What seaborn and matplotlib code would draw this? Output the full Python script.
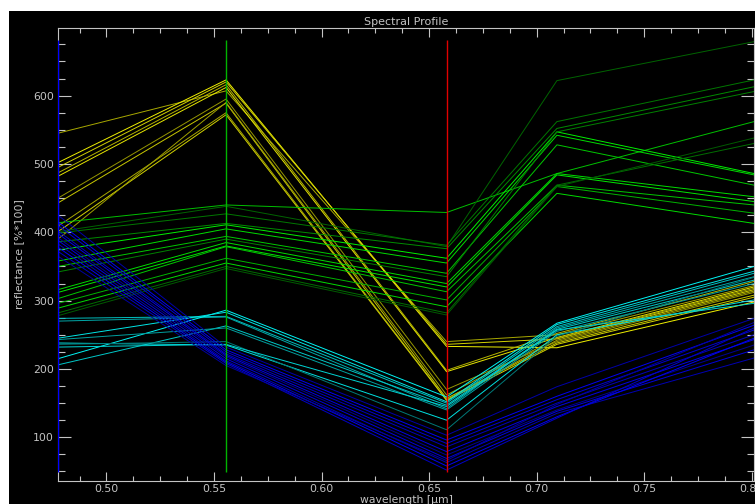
import matplotlib
matplotlib.use("Agg")
import matplotlib.pyplot as plt
from matplotlib.patches import Rectangle
from matplotlib.ticker import MultipleLocator, FormatStrFormatter
import seaborn as sns
import pandas as pd

# ---------------- data ----------------
wavelengths = [0.4775, 0.5556, 0.6581, 0.7094, 0.801]
band_marker_colors = ["#0000ff", "#00b400", "#e00000"]

yellow_profiles = [
    [545, 607, 240, 250, 322],
    [502, 623, 233, 231, 298],
    [495, 620, 236, 244, 316],
    [487, 616, 198, 252, 328],
    [482, 612, 196, 246, 320],
    [450, 595, 170, 240, 312],
    [443, 589, 157, 238, 308],
    [409, 575, 155, 242, 314],
    [401, 572, 154, 236, 305],
    [390, 590, 162, 245, 318],
]
yellow_colors = ["#a8a800", "#f0f000", "#d2d200", "#b4b400", "#e6e600",
                 "#969600", "#c8c800", "#a8a800", "#d2d200", "#a0a000"]

green_profiles = [
    [414, 440, 429, 486, 562],
    [401, 438, 379, 622, 679],
    [399, 427, 381, 562, 623],
    [386, 413, 376, 552, 613],
    [374, 411, 362, 547, 486],
    [358, 405, 355, 542, 484],
    [350, 394, 340, 528, 469],
    [342, 390, 335, 547, 606],
    [316, 385, 325, 486, 452],
    [312, 380, 320, 484, 445],
    [303, 379, 313, 469, 440],
    [296, 362, 301, 467, 428],
    [289, 355, 291, 457, 413],
    [282, 350, 282, 469, 530],
    [278, 347, 279, 467, 538],
]
green_colors = ["#00c000", "#006400", "#007800", "#008c00", "#00f000",
                "#00dc00", "#00c800", "#008200", "#00dc00", "#00e600",
                "#00c800", "#00b400", "#00dc00", "#006e00", "#005a00"]

cyan_profiles = [
    [274, 277, 150, 262, 340],
    [270, 276, 142, 260, 335],
    [215, 286, 159, 267, 350],
    [206, 263, 147, 258, 330],
    [243, 260, 140, 255, 325],
    [238, 235, 125, 250, 301],
    [236, 240, 111, 248, 334],
    [245, 283, 152, 265, 343],
    [232, 236, 145, 257, 296],
]
cyan_colors = ["#00c0c0", "#00a8a8", "#00f5f5", "#00c8c8", "#00a0a0",
               "#00e0e0", "#007878", "#00e6e6", "#00d4d4"]

blue_profiles = [
    [425, 232, 103, 174, 274],
    [415, 228, 96, 160, 264],
    [410, 225, 91, 155, 257],
    [402, 222, 86, 150, 250],
    [398, 220, 79, 145, 243],
    [392, 218, 74, 140, 235],
    [388, 215, 69, 138, 228],
    [383, 212, 63, 135, 216],
    [378, 210, 58, 130, 245],
    [372, 208, 52, 128, 260],
    [365, 205, 66, 148, 268],
]
blue_colors = ["#0000aa", "#0000f5", "#0000d2", "#0000be", "#0000e6",
               "#000096", "#0000dc", "#0000b4", "#0000f5", "#0000c8",
               "#0000a0"]

xlim = (0.4775, 0.801)
ylim = (36, 699)
title = "Spectral Profile"
xlabel = "wavelength [\u03bcm]"
ylabel = "reflectance [%*100]"

# ---------------- build long table ----------------
rows = []
palette = {}
groups = [("yellow", yellow_profiles, yellow_colors),
          ("green", green_profiles, green_colors),
          ("cyan", cyan_profiles, cyan_colors),
          ("blue", blue_profiles, blue_colors)]
for gname, profiles, cols in groups:
    for i, (prof, c) in enumerate(zip(profiles, cols)):
        name = f"{gname}{i}"
        palette[name] = c
        for w, v in zip(wavelengths, prof):
            rows.append({"wavelength": w, "reflectance": v, "line": name})
df = pd.DataFrame(rows)

# ---------------- style ----------------
sns.set_style("dark", {"axes.facecolor": "black"})
plt.rcParams["font.family"] = ["DejaVu Sans"]
fg = "#c4c4c4"

fig = plt.figure(figsize=(7.55, 5.04), dpi=100, facecolor="white")
fig.patches.append(Rectangle((9 / 755, 0), 1, (504 - 11) / 504,
                             transform=fig.transFigure, facecolor="black",
                             edgecolor="none", zorder=-10))
ax = fig.add_axes([58 / 755, 23 / 504, 696 / 755, 453 / 504])
ax.set_facecolor("black")

sns.lineplot(data=df, x="wavelength", y="reflectance", hue="line",
             palette=palette, estimator=None, sort=False, legend=False,
             linewidth=0.7, ax=ax)

vmin, vmax = df["reflectance"].min(), df["reflectance"].max()
ax.vlines(wavelengths[:3], vmin - 3, vmax + 3, colors=band_marker_colors,
          linewidth=1.0, zorder=5)

ax.set_xlim(*xlim)
ax.set_ylim(*ylim)
ax.xaxis.set_major_locator(MultipleLocator(0.05))
ax.xaxis.set_minor_locator(MultipleLocator(0.0125))
ax.xaxis.set_major_formatter(FormatStrFormatter("%.2f"))
ax.yaxis.set_major_locator(MultipleLocator(100))
ax.yaxis.set_minor_locator(MultipleLocator(25))

ax.tick_params(axis="both", which="both", direction="in", colors=fg,
               labelcolor=fg, labelsize=7.8, top=True, right=True,
               bottom=True, left=True, width=0.8)
ax.tick_params(axis="x", which="major", length=6.5, pad=2)
ax.tick_params(axis="x", which="minor", length=3.5)
ax.tick_params(axis="y", which="major", length=9.5, pad=3)
ax.tick_params(axis="y", which="minor", length=5)
for s in ax.spines.values():
    s.set_visible(True)
    s.set_color(fg)
    s.set_linewidth(0.8)
ax.grid(False)

ax.set_title(title, color=fg, fontsize=8, pad=2)
ax.set_xlabel(xlabel, color=fg, fontsize=7.8)
ax.set_ylabel(ylabel, color=fg, fontsize=7.8)
ax.xaxis.set_label_coords(0.5, -0.031)
ax.yaxis.set_label_coords(-0.048, 0.5)

fig.savefig("out.png", dpi=100, facecolor="white")
